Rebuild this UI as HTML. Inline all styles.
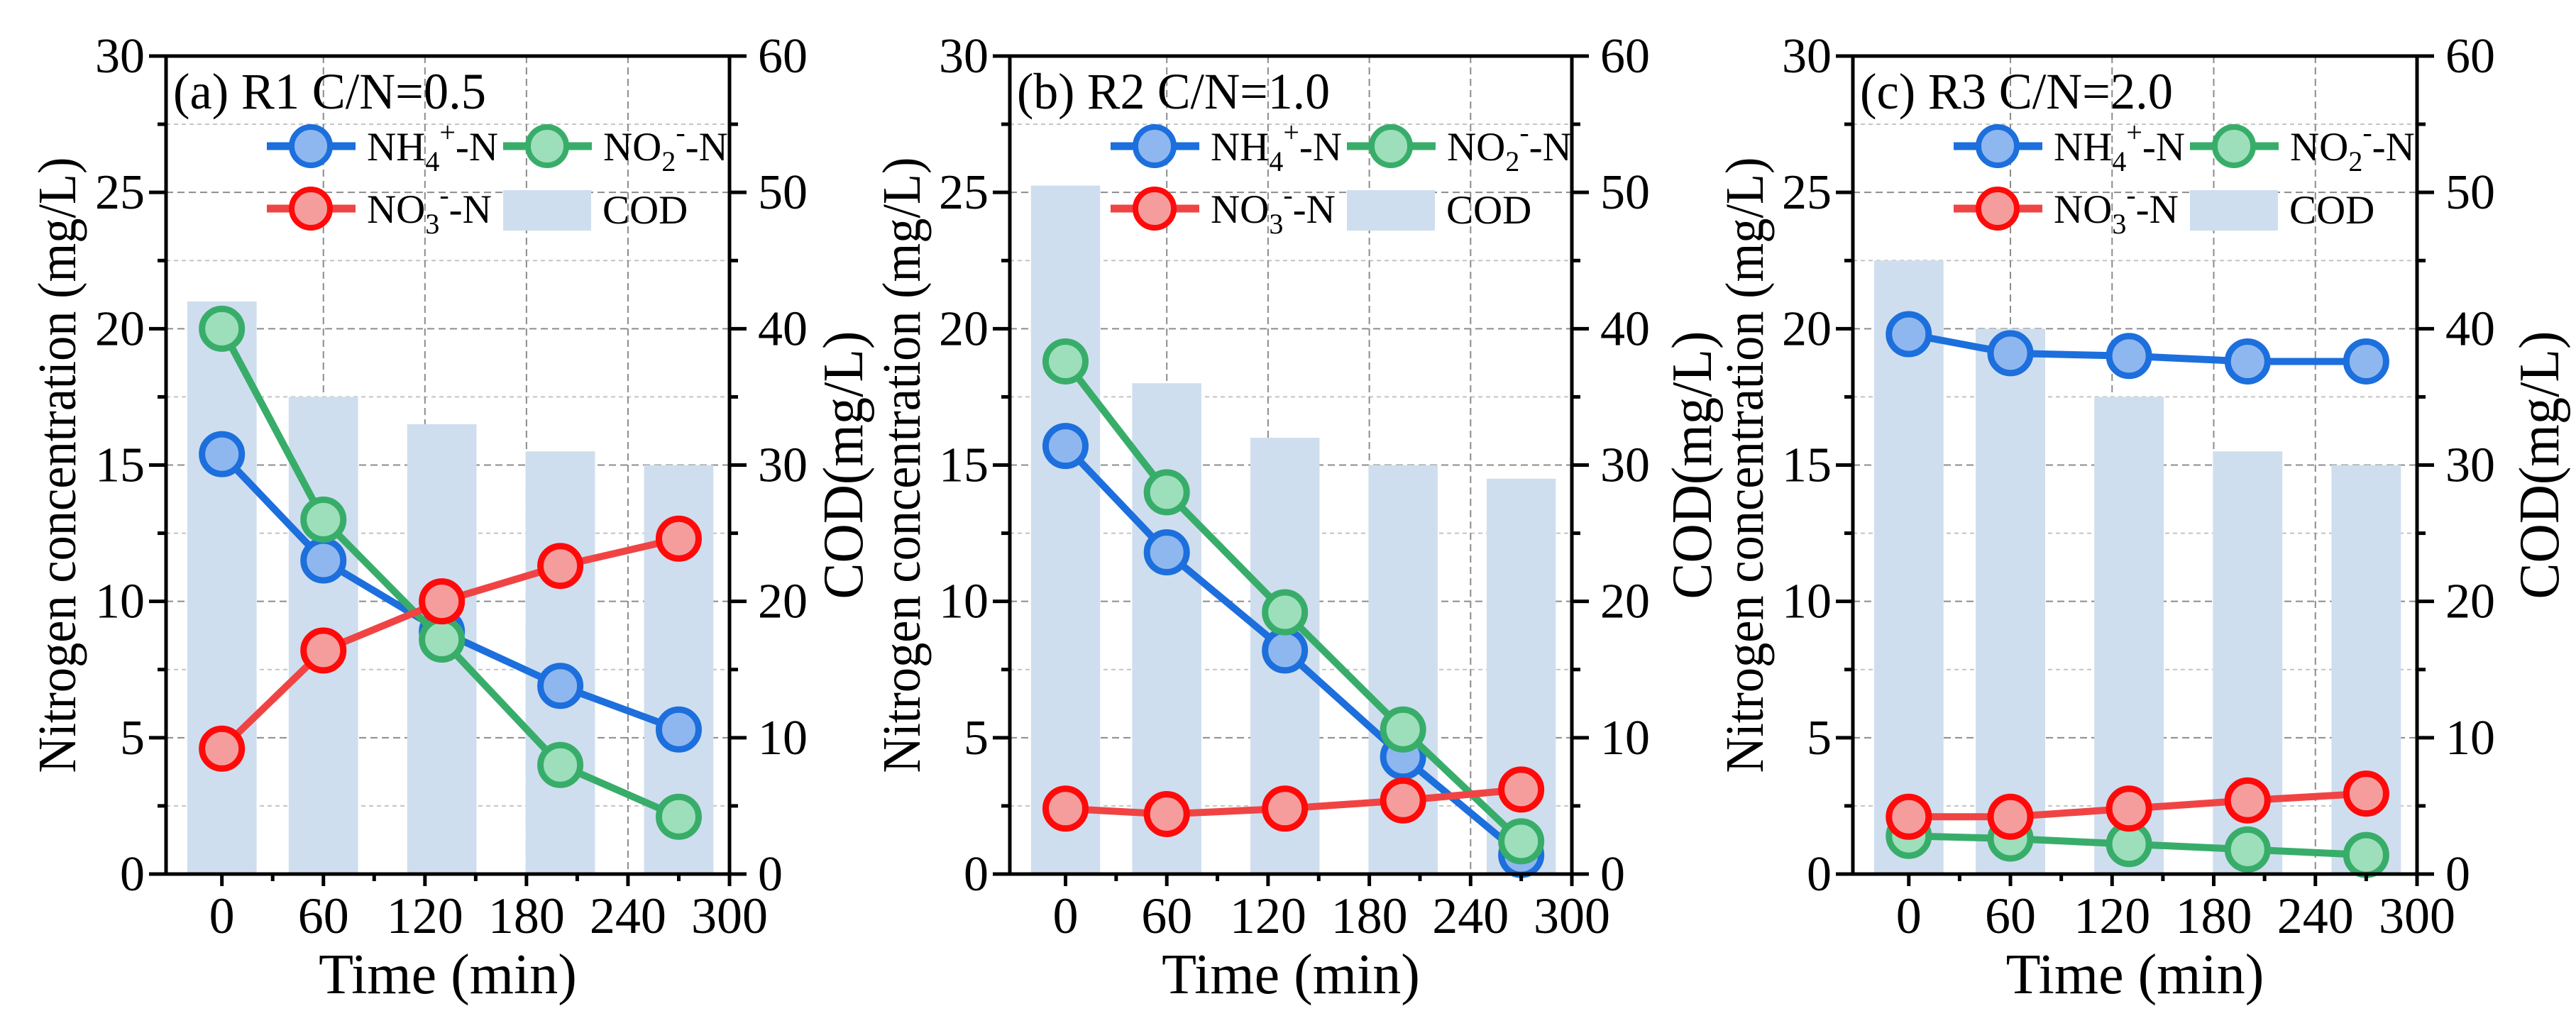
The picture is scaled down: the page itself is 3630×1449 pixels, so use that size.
<!DOCTYPE html>
<html><head><meta charset="utf-8">
<style>
html,body{margin:0;padding:0;background:#fff;}
svg{display:block;font-family:"Liberation Serif",serif;}
</style></head>
<body>
<svg id="chart" width="3630" height="1449" viewBox="0 0 3630 1449" xmlns="http://www.w3.org/2000/svg"></svg>
<script>
const times = [0, 60, 130, 200, 270];
const xTicks = [0, 60, 120, 180, 240, 300];
const yTicks = [0, 5, 10, 15, 20, 25, 30];
const y2Ticks = [0, 10, 20, 30, 40, 50, 60];
const panelTitles = ["(a) R1 C/N=0.5", "(b) R2 C/N=1.0", "(c) R3 C/N=2.0"];
const nh4A = [15.4, 11.5, 8.9, 6.9, 5.3];
const no2A = [20.0, 13.0, 8.6, 4.0, 2.1];
const no3A = [4.6, 8.2, 10.0, 11.3, 12.3];
const codA = [42, 35, 33, 31, 30];
const nh4B = [15.7, 11.8, 8.2, 4.3, 0.7];
const no2B = [18.8, 14.0, 9.6, 5.3, 1.2];
const no3B = [2.4, 2.2, 2.4, 2.7, 3.1];
const codB = [50.5, 36, 32, 30, 29];
const nh4C = [19.8, 19.1, 19.0, 18.8, 18.8];
const no2C = [1.4, 1.3, 1.1, 0.9, 0.7];
const no3C = [2.1, 2.1, 2.4, 2.7, 2.95];
const codC = [45, 40, 35, 31, 30];

const NS = "http://www.w3.org/2000/svg";
const svg = document.getElementById("chart");
function mk(tag, attrs, parent, text){
  const e = document.createElementNS(NS, tag);
  for (const k in attrs) e.setAttribute(k, attrs[k]);
  if (text !== undefined) e.textContent = text;
  (parent || svg).appendChild(e);
  return e;
}
const panels = [
  {L:234, R:1028, ylx:80, yrx:1188, nh4:nh4A, no2:no2A, no3:no3A, cod:codA, key:"a"},
  {L:1423, R:2215, ylx:1270, yrx:2384, nh4:nh4B, no2:no2B, no3:no3B, cod:codB, key:"b"},
  {L:2611, R:3406, ylx:2458, yrx:3578, nh4:nh4C, no2:no2C, no3:no3C, cod:codC, key:"c"}
];
const T = 79, B = 1232;
const X0 = -33, X1 = 300;
const series = [
  {k:"nh4", name:"nh4", line:"#1c6fdc", fill:"#8fb7ef", ring:"#1c6fdc"},
  {k:"no2", name:"no2", line:"#38ad6a", fill:"#9ddfba", ring:"#38ad6a"},
  {k:"no3", name:"no3", line:"#f04444", fill:"#f59d9d", ring:"#ff0a0a"}
];
panels.forEach((p, pi) => {
  const g = mk("g", {});
  
  
  const x = v => p.L + (v - X0) / (X1 - X0) * (p.R - p.L);
  const y = v => B - v / 30 * (B - T);
  const y2 = v => B - v / 60 * (B - T);
  for (let v = 2.5; v < 30; v += 2.5) {
    const major = v % 5 === 0;
    const gl = mk("line", {x1:p.L, x2:p.R, y1:y(v), y2:y(v), stroke: major ? "#8c8c8c" : "#c4c4c4", "stroke-width":2, "stroke-dasharray": major ? "10,6" : "6,5"}, g);
    
    
  }
  xTicks.slice(1, -1).forEach(v => {
    const gl = mk("line", {x1:x(v), x2:x(v), y1:T, y2:B, stroke:"#8c8c8c", "stroke-width":2, "stroke-dasharray":"10,6"}, g);
    
    
  });
  p.cod.forEach((v, i) => {
    const w = 41 / (X1 - X0) * (p.R - p.L);
    const b = mk("rect", {x:x(times[i]) - w/2, y:y2(v), width:w, height:B - y2(v), fill:"#cfdeee"}, g);
    
    
  });
  series.forEach(s => {
    const vals = p[s.k];
    const pts = vals.map((v, i) => x(times[i]) + "," + y(v)).join(" ");
    const pl = mk("polyline", {points:pts, fill:"none", stroke:s.line, "stroke-width":10}, g);
    
    
    vals.forEach((v, i) => {
      const c = mk("circle", {cx:x(times[i]), cy:y(v), r:28, fill:s.fill, stroke:s.ring, "stroke-width":9}, g);
      
      
    });
  });
  const ax = mk("path", {d:`M${p.L},${T} V${B} H${p.R} V${T} H${p.L}`, fill:"none", stroke:"#000", "stroke-width":5}, g);
  
  
  for (let v = 0; v <= 30; v += 2.5) {
    const major = v % 5 === 0;
    const len = major ? 24 : 12;
    mk("line", {x1:p.L - len, x2:p.L, y1:y(v), y2:y(v), stroke:"#000", "stroke-width":5}, g);
    mk("line", {x1:p.R, x2:p.R + len, y1:y(v), y2:y(v), stroke:"#000", "stroke-width":5}, g);
  }
  yTicks.forEach(v => {
    const t = mk("text", {x:p.L - 30, y:y(v) + 23, "text-anchor":"end", "font-size":70}, g, String(v));
    
    
  });
  y2Ticks.forEach(v => {
    const t = mk("text", {x:p.R + 40, y:y2(v) + 23, "text-anchor":"start", "font-size":70}, g, String(v));
    
    
  });
  for (let v = 0; v <= 300; v += 30) {
    const major = v % 60 === 0;
    mk("line", {x1:x(v), x2:x(v), y1:B, y2:B + (major ? 17 : 10), stroke:"#000", "stroke-width":5}, g);
  }
  xTicks.forEach(v => {
    const t = mk("text", {x:x(v), y:1315, "text-anchor":"middle", "font-size":72}, g, String(v));
    
    
  });
  const xt = mk("text", {x:(p.L + p.R) / 2, y:1400, "text-anchor":"middle", "font-size":80}, g, "Time (min)");
  
  
  const cy = (T + B) / 2;
  const yl = mk("text", {x:p.ylx, y:cy, "text-anchor":"middle", "font-size":76, textLength:868, lengthAdjust:"spacingAndGlyphs", transform:`rotate(-90 ${p.ylx} ${cy})`, dy:26}, g, "Nitrogen concentration (mg/L)");
  
  
  const yr = mk("text", {x:p.yrx, y:cy, "text-anchor":"middle", "font-size":80, textLength:378, lengthAdjust:"spacingAndGlyphs", transform:`rotate(-90 ${p.yrx} ${cy})`, dy:27}, g, "COD(mg/L)");
  
  
  const pt = mk("text", {x:p.L + 10, y:153, "font-size":72, textLength:441, lengthAdjust:"spacingAndGlyphs"}, g, panelTitles[pi]);
  
  
  const lg = mk("g", {}, g);
  
  
  const items = [
    {s:series[0], lx:p.L + 142, ly:206, lab:["NH","4","+","-N"]},
    {s:series[1], lx:p.L + 475, ly:206, lab:["NO","2","-","-N"]},
    {s:series[2], lx:p.L + 142, ly:294, lab:["NO","3","-","-N"]}
  ];
  items.forEach(it => {
    const e = mk("g", {}, lg);
    
    
    mk("line", {x1:it.lx, x2:it.lx + 125, y1:it.ly, y2:it.ly, stroke:it.s.line, "stroke-width":11}, e);
    mk("circle", {cx:it.lx + 62, cy:it.ly, r:27, fill:it.s.fill, stroke:it.s.ring, "stroke-width":8}, e);
    const t = mk("text", {x:it.lx + 141, y:it.ly + 20, "font-size":57}, e);
    mk("tspan", {}, t, it.lab[0]);
    mk("tspan", {"font-size":40, dy:15}, t, it.lab[1]);
    mk("tspan", {"font-size":40, dy:-41}, t, it.lab[2]);
    mk("tspan", {dy:26}, t, it.lab[3]);
  });
  const ce = mk("g", {}, lg);
  
  
  mk("rect", {x:p.L + 475, y:268, width:124, height:57, fill:"#cfdeee"}, ce);
  mk("text", {x:p.L + 615, y:315, "font-size":57}, ce, "COD");
});
</script>
</body></html>
